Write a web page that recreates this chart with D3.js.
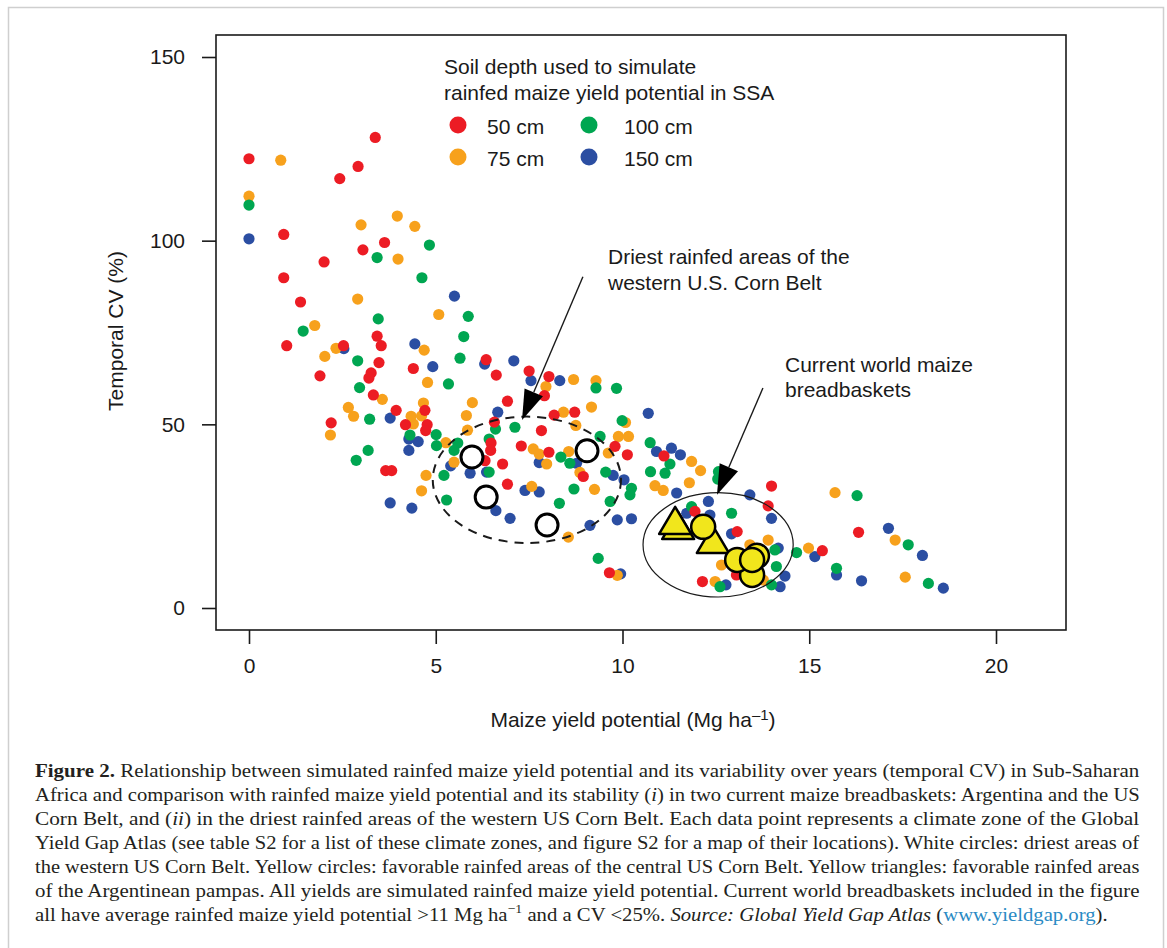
<!DOCTYPE html>
<html>
<head>
<meta charset="utf-8">
<script src="https://cdn.jsdelivr.net/npm/d3@7"></script>
<style>
  body { margin: 0; background: #fff; }
  svg { display: block; }
</style>
</head>
<body>
<svg id="chart" width="1167" height="948"></svg>
<script>
// tick labels
const xTicks = [0, 5, 10, 15, 20];
const yTicks = [0, 50, 100, 150];

// legend categories
const depthLabels = ["50 cm", "75 cm", "100 cm", "150 cm"];

// SSA climate zones: [yield potential Mg/ha, temporal CV %]
const depth50 = [
  [0.0,122.3],[3.38,128.1],[2.92,120.2],[2.43,116.9],[0.93,101.7],[3.63,99.5],[3.05,97.5],
  [2.01,94.2],[0.93,89.9],[1.38,83.3],[3.43,74.0],[3.54,71.4],[1.01,71.4],[2.53,71.4],
  [3.48,66.8],[4.40,65.2],[6.35,67.6],[1.90,63.2],[3.27,64.0],[3.21,62.6],[6.62,63.4],
  [7.50,64.5],[8.03,63.0],[7.91,57.8],[3.33,58.0],[2.20,50.4],[3.94,53.8],[4.19,49.9],
  [4.71,53.8],[4.77,49.9],[4.73,48.3],[6.92,56.3],[6.57,50.6],[8.17,52.5],[8.72,53.3],
  [7.83,48.3],[6.48,44.9],[6.47,42.9],[6.32,40.1],[6.79,39.2],[7.29,44.1],[8.03,42.4],
  [8.95,35.8],[6.92,33.7],[3.66,37.4],[3.82,37.4],[9.65,9.6],[9.80,44.0],[10.13,41.7],
  [11.11,41.4],[13.99,33.2],[13.90,27.8],[11.94,26.3],[13.07,20.8],[15.35,15.6],
  [12.14,7.2],[13.05,9.0],[16.32,20.6]
];
const depth75 = [
  [0.85,121.9],[0.0,112.1],[3.00,104.3],[3.97,106.7],[4.44,103.9],[3.99,95.0],[2.91,84.1],
  [5.08,79.9],[1.76,76.9],[2.33,70.7],[2.03,68.5],[4.69,70.2],[4.78,61.4],[8.69,62.2],
  [9.29,61.9],[7.95,60.3],[3.57,56.8],[2.66,54.6],[2.80,52.2],[2.18,47.1],[4.40,50.1],
  [4.34,52.2],[4.67,55.8],[4.62,52.3],[5.98,55.9],[5.82,52.4],[5.85,48.4],[8.42,53.3],
  [9.17,54.7],[8.75,49.7],[9.89,46.7],[5.27,45.0],[5.49,39.7],[7.61,43.3],[7.77,41.9],
  [7.97,39.2],[8.56,42.6],[8.86,36.9],[9.25,32.3],[7.57,33.1],[4.74,36.1],[4.62,31.9],
  [8.55,19.3],[9.86,8.9],[10.16,46.7],[10.08,50.5],[9.62,42.2],[11.85,39.9],[12.09,37.4],
  [10.87,33.3],[11.09,32.0],[11.79,34.1],[15.69,31.4],[13.90,18.5],[14.98,16.3],
  [12.65,11.7],[13.41,17.2],[12.48,7.2],[13.77,7.6],[17.30,18.5],[17.57,8.4]
];
const depth100 = [
  [0.0,109.7],[4.83,98.8],[3.43,95.4],[4.63,89.9],[5.87,79.4],[3.46,78.7],[1.45,75.4],
  [5.75,73.9],[2.91,67.3],[5.65,68.0],[2.96,60.0],[5.34,61.0],[9.29,59.9],[9.84,59.8],
  [3.23,51.4],[6.60,48.7],[7.12,49.2],[9.40,46.7],[4.31,47.1],[5.01,47.2],[5.02,44.2],
  [5.59,44.9],[5.49,42.9],[6.43,46.0],[6.43,37.0],[8.35,41.1],[8.59,39.4],[8.70,32.4],
  [8.31,28.5],[5.22,36.1],[5.29,29.4],[2.87,40.2],[3.19,42.9],[9.35,13.5],[9.67,29.0],
  [9.55,37.0],[9.99,51.0],[10.74,45.0],[10.75,37.1],[11.14,36.7],[10.24,32.6],[10.20,30.8],
  [11.27,39.2],[12.57,37.1],[12.55,35.1],[11.85,27.6],[12.92,25.8],[14.08,15.8],
  [14.66,15.1],[15.73,10.8],[14.12,11.3],[12.61,5.8],[13.99,6.3],[16.28,30.6],
  [17.65,17.2],[18.19,6.7]
];
const depth150 = [
  [0.0,100.5],[5.50,84.9],[2.54,70.6],[4.44,71.9],[4.92,65.7],[6.31,66.4],[7.09,67.3],
  [7.55,61.9],[8.32,61.9],[3.78,51.7],[6.66,53.3],[4.28,46.0],[4.53,45.3],[4.28,42.9],
  [5.40,38.7],[5.92,36.7],[6.36,37.0],[7.77,39.6],[8.77,39.4],[7.39,32.0],[7.77,31.6],
  [6.61,26.5],[6.99,24.4],[9.13,22.5],[3.78,28.6],[4.36,27.2],[9.75,36.1],[9.86,24.0],
  [9.95,9.3],[10.69,53.0],[10.91,42.6],[11.31,43.5],[11.55,41.7],[10.04,34.9],[10.24,24.3],
  [11.45,31.3],[13.41,30.8],[12.30,29.0],[13.99,24.4],[11.72,25.8],[12.34,25.3],
  [12.92,20.2],[14.17,16.3],[15.15,14.0],[15.73,9.0],[14.35,8.7],[14.22,5.8],[12.77,6.3],
  [16.40,7.4],[17.12,21.7],[18.03,14.3],[18.59,5.4]
];

// reference sites
const westernCornBelt = [[5.97,41.1],[6.35,30.2],[7.98,22.6],[9.05,42.8]];       // white circles
const centralCornBelt = [[12.16,22.1],[13.47,9.0],[13.07,13.1],[13.60,14.2],[13.47,13.1]]; // yellow circles
const pampas = [[11.49,21.5],[11.41,22.9],[12.42,17.7]];                          // yellow triangles

const svg = d3.select("#chart");
const box = { left: 216, right: 1066, top: 35, bottom: 630 };
const x = d3.scaleLinear().domain([0, 20]).range([249, 996]);
const y = d3.scaleLinear().domain([0, 150]).range([608, 57]);
const sans = "'Liberation Sans', Arial, sans-serif";
const serif = "'Liberation Serif', 'Times New Roman', serif";
const ink = "#1a1a1a";

// outer figure frame
svg.append("rect")
    .attr("x", 8.5).attr("y", 7.5)
    .attr("width", 1155).attr("height", 960)
    .attr("fill", "none").attr("stroke", "#cfcfcf").attr("stroke-width", 1.5);

// axes
const xAxis = svg.append("g")
    .attr("transform", `translate(0,${box.bottom})`)
    .call(d3.axisBottom(x).tickValues(xTicks).tickSize(14).tickPadding(14));
const yAxis = svg.append("g")
    .attr("transform", `translate(${box.left},0)`)
    .call(d3.axisLeft(y).tickValues(yTicks).tickSize(14).tickPadding(17));
[xAxis, yAxis].forEach(g => {
  g.select(".domain").remove();
  g.selectAll("line").attr("stroke", ink).attr("stroke-width", 1.6);
  g.selectAll("text").attr("font-family", sans).attr("font-size", 21).attr("fill", ink);
});

// plot box
svg.append("rect")
    .attr("x", box.left).attr("y", box.top)
    .attr("width", box.right - box.left).attr("height", box.bottom - box.top)
    .attr("fill", "none").attr("stroke", ink).attr("stroke-width", 1.6);

// axis titles
svg.append("text")
    .attr("transform", "translate(123,331) rotate(-90)")
    .attr("text-anchor", "middle")
    .attr("font-family", sans).attr("font-size", 21).attr("fill", ink)
    .text("Temporal CV (%)");

const xTitle = svg.append("text")
    .attr("x", 633).attr("y", 727)
    .attr("text-anchor", "middle")
    .attr("font-family", sans).attr("font-size", 21).attr("fill", ink);
xTitle.append("tspan").text("Maize yield potential (Mg ha");
xTitle.append("tspan").attr("font-size", 15).attr("dy", -7).text("\u20131");
xTitle.append("tspan").attr("dy", 7).text(")");

// scatter of SSA zones
const seriesColors = { 50: "#ec1c24", 75: "#f7a11c", 100: "#00a651", 150: "#2b4ea2" };
const layers = [
  { key: 150, data: depth150 },
  { key: 75, data: depth75 },
  { key: 100, data: depth100 },
  { key: 50, data: depth50 }
];
const dots = svg.append("g");
layers.forEach(l => {
  dots.selectAll(null)
    .data(l.data)
    .enter().append("circle")
      .attr("cx", d => x(d[0]))
      .attr("cy", d => y(d[1]))
      .attr("r", 5.6)
      .attr("fill", seriesColors[l.key]);
});

// outlines around reference groups
const dryCenter = [7.44, 34.9], dryRadii = [2.52, 17.2];
svg.append("ellipse")
    .attr("cx", x(dryCenter[0])).attr("cy", y(dryCenter[1]))
    .attr("rx", x(dryRadii[0]) - x(0)).attr("ry", y(0) - y(dryRadii[1]))
    .attr("fill", "none").attr("stroke", ink).attr("stroke-width", 2)
    .attr("stroke-dasharray", "9,7");

const bbCenter = [12.56, 17.2], bbRadii = [2.01, 14.2];
svg.append("ellipse")
    .attr("cx", x(bbCenter[0])).attr("cy", y(bbCenter[1]))
    .attr("rx", x(bbRadii[0]) - x(0)).attr("ry", y(0) - y(bbRadii[1]))
    .attr("fill", "none").attr("stroke", ink).attr("stroke-width", 1.2);

// arrows
function arrow(from, to) {
  const x0 = x(from[0]), y0 = y(from[1]), x1 = x(to[0]), y1 = y(to[1]);
  const len = Math.hypot(x1 - x0, y1 - y0);
  const ux = (x1 - x0) / len, uy = (y1 - y0) / len;
  const head = 30, half = 10;
  const bx = x1 - ux * head, by = y1 - uy * head;
  svg.append("line")
      .attr("x1", x0).attr("y1", y0).attr("x2", bx).attr("y2", by)
      .attr("stroke", ink).attr("stroke-width", 1.4);
  svg.append("path")
      .attr("d", `M${x1},${y1}L${bx - uy * half},${by + ux * half}L${bx + uy * half},${by - ux * half}Z`)
      .attr("fill", "#000");
}
arrow([8.94, 90.2], [7.31, 51.2]);
arrow([13.76, 59.9], [12.53, 30.8]);

// reference markers
svg.append("g").selectAll("circle")
  .data(westernCornBelt)
  .enter().append("circle")
    .attr("cx", d => x(d[0])).attr("cy", d => y(d[1]))
    .attr("r", 11)
    .attr("fill", "#fff").attr("stroke", "#000").attr("stroke-width", 3);

svg.append("g").selectAll("path")
  .data(pampas)
  .enter().append("path")
    .attr("transform", d => `translate(${x(d[0])},${y(d[1])})`)
    .attr("d", "M0,-17L16,10L-16,10Z")
    .attr("fill", "#f1e61c").attr("stroke", "#000").attr("stroke-width", 2.5)
    .attr("stroke-linejoin", "round");

svg.append("g").selectAll("circle")
  .data(centralCornBelt)
  .enter().append("circle")
    .attr("cx", d => x(d[0])).attr("cy", d => y(d[1]))
    .attr("r", 12)
    .attr("fill", "#f1e61c").attr("stroke", "#000").attr("stroke-width", 2.5);

// legend
const legend = svg.append("g").attr("font-family", sans).attr("font-size", 21).attr("fill", ink);
legend.append("text").attr("x", 444).attr("y", 74).text("Soil depth used to simulate");
legend.append("text").attr("x", 444).attr("y", 100).text("rainfed maize yield potential in SSA");
const legendKeys = [50, 75, 100, 150];
legendKeys.forEach((k, i) => {
  const col = i < 2 ? 0 : 1, row = i % 2;
  const cx = 458 + col * 131, cy = 125 + row * 32;
  legend.append("circle").attr("cx", cx).attr("cy", cy).attr("r", 8.5).attr("fill", seriesColors[k]);
  legend.append("text").attr("x", cx + 29 + col * 6).attr("y", cy + 9).text(depthLabels[i]);
});

// annotations
const notes = svg.append("g").attr("font-family", sans).attr("font-size", 21).attr("fill", ink);
notes.append("text").attr("x", 608).attr("y", 264).text("Driest rainfed areas of the");
notes.append("text").attr("x", 608).attr("y", 290).text("western U.S. Corn Belt");
notes.append("text").attr("x", 785).attr("y", 372).text("Current world maize");
notes.append("text").attr("x", 785).attr("y", 397).text("breadbaskets");

// caption (justified; the original face is a condensed serif, so squeeze each line to width)
const captionLines = [
  [{ t: "Figure 2.", b: 1 }, { t: " Relationship between simulated rainfed maize yield potential and its variability over years (temporal CV) in Sub-Saharan" }],
  [{ t: "Africa and comparison with rainfed maize yield potential and its stability (" }, { t: "i", i: 1 }, { t: ") in two current maize breadbaskets: Argentina and the US" }],
  [{ t: "Corn Belt, and (" }, { t: "ii", i: 1 }, { t: ") in the driest rainfed areas of the western US Corn Belt. Each data point represents a climate zone of the Global" }],
  [{ t: "Yield Gap Atlas (see table S2 for a list of these climate zones, and figure S2 for a map of their locations). White circles: driest areas of" }],
  [{ t: "the western US Corn Belt. Yellow circles: favorable rainfed areas of the central US Corn Belt. Yellow triangles: favorable rainfed areas" }],
  [{ t: "of the Argentinean pampas. All yields are simulated rainfed maize yield potential. Current world breadbaskets included in the figure" }],
  [{ t: "all have average rainfed maize yield potential >11 Mg ha" }, { t: "\u22121", sup: 1 }, { t: " and a CV <25%. " },
   { t: "Source: Global Yield Gap Atlas", i: 1 }, { t: " (" }, { t: "www.yieldgap.org", link: 1 }, { t: ")." }]
];
const capLeft = 35, capRight = 1140, lastRight = 1108, capTop = 777, capStep = 24;
const caption = svg.append("g").attr("font-family", serif).attr("font-size", 19.5).attr("fill", "#231f20");
captionLines.forEach((segs, li) => {
  const line = caption.append("text").attr("x", capLeft).attr("y", capTop + li * capStep);
  segs.forEach((s, k) => {
    const ts = line.append("tspan").text(s.t);
    if (s.b) ts.attr("font-weight", "bold");
    if (s.i) ts.attr("font-style", "italic");
    if (s.link) ts.attr("fill", "#2a8ac4");
    if (s.sup) ts.attr("font-size", 13).attr("dy", -8);
    if (k > 0 && segs[k - 1].sup) ts.attr("dy", 8);
  });
  const target = (li < captionLines.length - 1 ? capRight : lastRight) - capLeft;
  const natural = line.node().getComputedTextLength();
  const sx = target / natural;
  line.attr("transform", `translate(${capLeft},0) scale(${sx},1) translate(${-capLeft},0)`);
});
</script>
</body>
</html>
